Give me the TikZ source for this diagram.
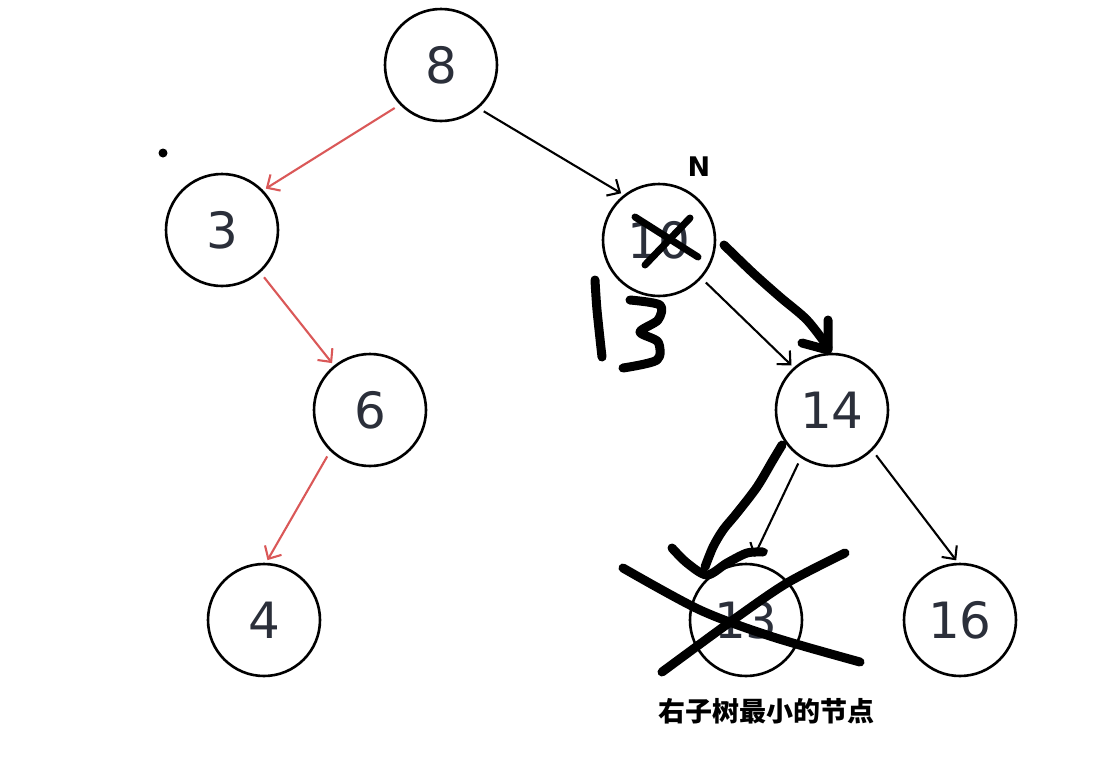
\documentclass[tikz,border=0pt]{standalone}
\usepackage{fontspec}
\setmainfont{DejaVu Sans}
\newfontfamily\cjk{Noto Sans CJK SC}
\usetikzlibrary{arrows.meta, positioning}
\definecolor{inkgrey}{RGB}{43, 47, 58}
\definecolor{edgered}{RGB}{218, 88, 88}

\begin{document}
\begin{tikzpicture}[x=1pt, y=-1pt,
    treenode/.style={circle, draw=black, line width=2.6pt, minimum size=112pt, inner sep=0pt,
      text=inkgrey, font=\fontsize{50}{56}\selectfont},
    treeedge/.style={line width=2.1pt, -{Straight Barb[length=10pt, width=19pt, line width=2.1pt]},
      shorten <=6pt, shorten >=3pt},
    rededge/.style={treeedge, draw=edgered},
    inkstroke/.style={line width=9pt, line cap=round, line join=round}]
  \useasboundingbox (0,0) rectangle (1120,756);

  % tree nodes
  \node[treenode] (n8) at (441,65) {8};
  \node[treenode] (n3) at (222,230) {3};
  \node[treenode] (n10) at (659,240) {10};
  \node[treenode] (n6) at (370,410) {6};
  \node[treenode] (n14) at (832,410) {14};
  \node[treenode] (n4) at (264,620) {4};
  \node[treenode] (n13) at (746,620) {13};
  \node[treenode] (n16) at (960,620) {16};

  % edges
  \draw[rededge] (n8.224) -- (n3.44);
  \draw[rededge] (n3.312) -- (n6.129);
  \draw[rededge] (n6.226) -- (n4.88);
  \draw[treeedge] (n8.311) -- (n10.128);
  \draw[treeedge] (n10.318) -- (n14.132);
  \draw[treeedge, shorten >=7pt] (n14.237) -- (n13.85);
  \draw[treeedge] (n14.315) -- (n16.92);

  % labels
  \node[font=\bfseries\fontsize{27}{30}\selectfont] (nlabel) at (699,167) {N};
  \node[font=\cjk\bfseries\fontsize{27}{30}\selectfont] (minlabel) at (766,711) {右子树最小的节点};
  \fill (163,153) circle (4.5pt);

  % hand-drawn marks
  \draw[inkstroke, line width=7pt] (635,217) -- (698,257);
  \draw[inkstroke, line width=7pt] (690,218) -- (645,265);
  \draw[inkstroke] plot[smooth] coordinates {(724,245) (753,273) (780,297) (807,320) (828,347)};
  \draw[inkstroke] (802,343) -- (828,350) -- (828,320);
  \draw[inkstroke] plot[smooth] coordinates {(595,280) (597,310) (602,357)};
  \draw[inkstroke] plot[smooth] coordinates {(630,300) (660,305) (658,320) (640,332) (658,342) (657,360) (623,368)};
  \draw[inkstroke] plot[smooth] coordinates {(782,445) (773,460) (757,487) (737,513) (723,530) (713,547) (705,567)};
  \draw[inkstroke] plot[smooth] coordinates {(672,548) (687,563) (707,575) (727,563) (747,553) (763,552)};
  \draw[inkstroke] plot[smooth] coordinates {(623,568) (700,610) (773,637) (860,662)};
  \draw[inkstroke] plot[smooth] coordinates {(845,553) (787,583) (733,620) (662,672)};
\end{tikzpicture}
\end{document}
